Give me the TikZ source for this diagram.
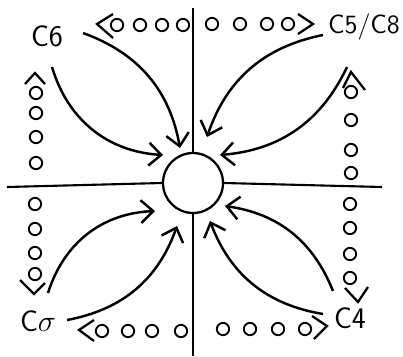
\documentclass[tikz,border=0pt]{standalone}
\usetikzlibrary{arrows.meta}
\begin{document}
\begin{tikzpicture}[x=0.02cm, y=-0.02cm,
	flow/.style={line width=1.4pt, -{Straight Barb[length=7pt,width=13pt,line width=1.4pt]}},
	dot/.style={circle, draw, line width=1.1pt, inner sep=0pt, minimum size=7pt},
	lbl/.style={font=\fontsize{17}{20}\selectfont\sffamily, inner sep=0pt},
	chev/.style={line width=1.3pt}]
	\useasboundingbox (0,0) rectangle (403,356);
	
	\node [circle, draw, line width=1.3pt, inner sep=0pt, minimum size=1.2cm] (hub) at (193,183) {};
	\draw [line width=1.2pt] (193,8) -- (hub.north);
	\draw [line width=1.2pt] (hub.south) -- (193,356);
	\draw [line width=1.2pt] (7,187) -- (hub.west);
	\draw [line width=1.2pt] (hub.east) -- (382,187);
	
	\node [lbl] (c6) at (47,36) {C6};
	\node [lbl, font=\fontsize{15}{18}\selectfont\sffamily] (c58) at (364,27) {C5/C8};
	\node [lbl] (cs) at (38,321) {C$\sigma$};
	\node [lbl] (c4) at (350,318) {C4};
	
	% dotted borders
	\foreach \x [count=\i] in {117,140,162,183} \node [dot] (tl\i) at (\x,25) {};
	\foreach \x [count=\i] in {212,240,267,288} \node [dot] (tr\i) at (\x,24) {};
	\foreach \y [count=\i] in {93,113,137,163} \node [dot] (lu\i) at (36,\y) {};
	\foreach \y [count=\i] in {204,229,253,274} \node [dot] (ll\i) at (35,\y) {};
	\foreach \x [count=\i] in {102,128,152,181} \node [dot] (bl\i) at (\x,331) {};
	\foreach \x [count=\i] in {223,250,278,305} \node [dot] (br\i) at (\x,329) {};
	\foreach \y [count=\i] in {92,120,150,173} \node [dot] (ru\i) at (351,\y) {};
	\foreach \y [count=\i] in {204,228,254,278} \node [dot] (rl\i) at (350,\y) {};
	
	\draw [chev] (113,14) -- (97,24) -- (113,38);
	\draw [chev] (298,14) -- (313,24) -- (298,34);
	\draw [chev] (25,84) -- (35,73) -- (45,84);
	\draw [chev] (20,280) -- (34,294) -- (45,283);
	\draw [chev] (94,320) -- (79,330) -- (94,341);
	\draw [chev] (312,316) -- (327,326) -- (314,339);
	\draw [chev] (343,88) -- (351,72) -- (365,90);
	\draw [chev] (345,288) -- (358,302) -- (368,287);
	
	% arrows into the hub
	\coordinate (a1) at (83,33);   \coordinate (b1) at (180,148);
	\coordinate (a2) at (52,67);   \coordinate (b2) at (163,155);
	\coordinate (a3) at (323,35);  \coordinate (b3) at (207,137);
	\coordinate (a4) at (347,67);  \coordinate (b4) at (220,155);
	\coordinate (a5) at (48,293);  \coordinate (b5) at (155,211);
	\coordinate (a6) at (67,320);  \coordinate (b6) at (177,226);
	\coordinate (a7) at (333,291); \coordinate (b7) at (225,206);
	\coordinate (a8) at (323,314); \coordinate (b8) at (210,221);
	\draw [flow] (a1) to [bend left=30] (b1);
	\draw [flow] (a2) to [bend right=35] (b2);
	\draw [flow] (a3) to [bend right=30] (b3);
	\draw [flow] (a4) to [bend left=30] (b4);
	\draw [flow] (a5) to [bend left=35] (b5);
	\draw [flow] (a6) to [bend right=30] (b6);
	\draw [flow] (a7) to [bend right=30] (b7);
	\draw [flow] (a8) to [bend left=30] (b8);
\end{tikzpicture}
\end{document}
